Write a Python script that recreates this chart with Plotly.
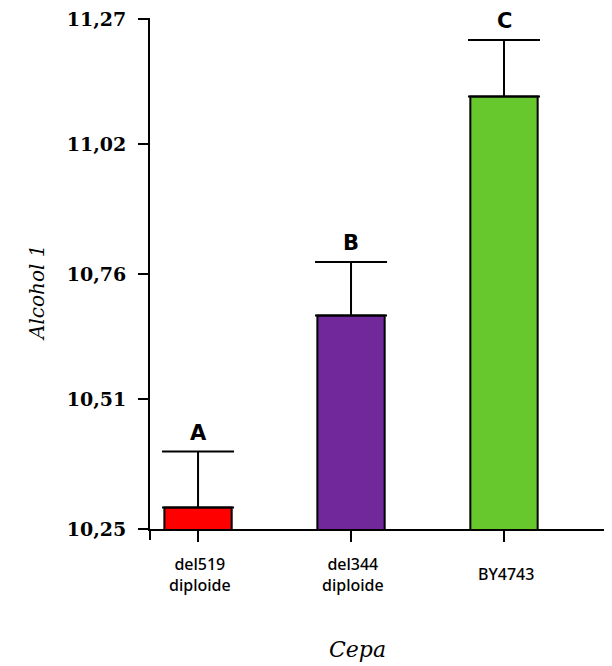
import plotly.graph_objects as go

categories = ["del519 diploide", "del344 diploide", "BY4743"]
cat_labels = ["del519<br>diploide", "del344<br>diploide", "BY4743"]
values = [10.293, 10.677, 11.115]
errors = [0.112, 0.107, 0.113]
letters = ["A", "B", "C"]
colors = ["#FF0000", "#70289A", "#67C82E"]
y_tickvals = [10.25, 10.51, 10.76, 11.02, 11.27]
y_ticktext = ["10,25", "10,51", "10,76", "11,02", "11,27"]

fig = go.Figure()
fig.add_trace(go.Bar(
    x=categories, y=values, width=0.44,
    marker=dict(color=colors, line=dict(color="black", width=2)),
    error_y=dict(type="data", array=errors, arrayminus=[0] * 3, symmetric=False,
                 color="black", thickness=2, width=36),
    hoverinfo="skip",
))

for c, v, e, l in zip(categories, values, errors, letters):
    fig.add_annotation(x=c, y=v + e, text=l, showarrow=False, yanchor="bottom", yshift=5,
                       font=dict(family="DejaVu Sans", size=21, color="black", weight="bold"))

for c, lab in zip(categories, cat_labels):
    fig.add_annotation(x=c, xref="x", y=-45 / 511, yref="paper", text=lab, showarrow=False,
                       yanchor="middle", xshift=2,
                       font=dict(family="Noto Sans", size=16, color="black", weight=500))

fig.add_annotation(x=(357 - 150) / 462, xref="paper", y=-120 / 511, yref="paper", text="Cepa",
                   showarrow=False, yanchor="middle",
                   font=dict(family="DejaVu Serif", size=22, color="black", style="italic"))
fig.add_annotation(x=-113 / 462, xref="paper", y=(529 - 293) / 511, yref="paper", text="Alcohol 1",
                   showarrow=False, textangle=-90, xanchor="center", yanchor="middle",
                   font=dict(family="DejaVu Serif", size=20, color="black", style="italic"))

# y-axis line extends below the baseline
fig.add_shape(type="line", xref="paper", yref="paper", x0=0, x1=0, y0=0, y1=-11 / 511,
              line=dict(color="black", width=2))
fig.add_shape(type="line", xref="paper", yref="paper", x0=-8 / 462, x1=0, y0=0, y1=0,
              line=dict(color="black", width=2))

fig.update_layout(
    width=612, height=666,
    margin=dict(l=142, r=8, t=10, b=145, autoexpand=False),
    plot_bgcolor="white", paper_bgcolor="white",
    showlegend=False, bargap=0.56,
    xaxis=dict(range=[-0.314, 2.706], showline=True, linecolor="black", linewidth=2,
               ticks="outside", ticklen=11, tickwidth=2, tickcolor="black",
               showticklabels=False, showgrid=False, zeroline=False, automargin=False),
    yaxis=dict(range=[10.25, 11.272], tickvals=y_tickvals, ticktext=y_ticktext,
               showline=True, linecolor="black", linewidth=2,
               ticks="outside", ticklen=10, tickwidth=2, tickcolor="black",
               ticklabelstandoff=8, ticklabeloverflow="allow", automargin=False,
               tickfont=dict(family="DejaVu Serif", size=19, color="black", weight="bold"),
               showgrid=False, zeroline=False),
)

fig.write_html("out.html")
